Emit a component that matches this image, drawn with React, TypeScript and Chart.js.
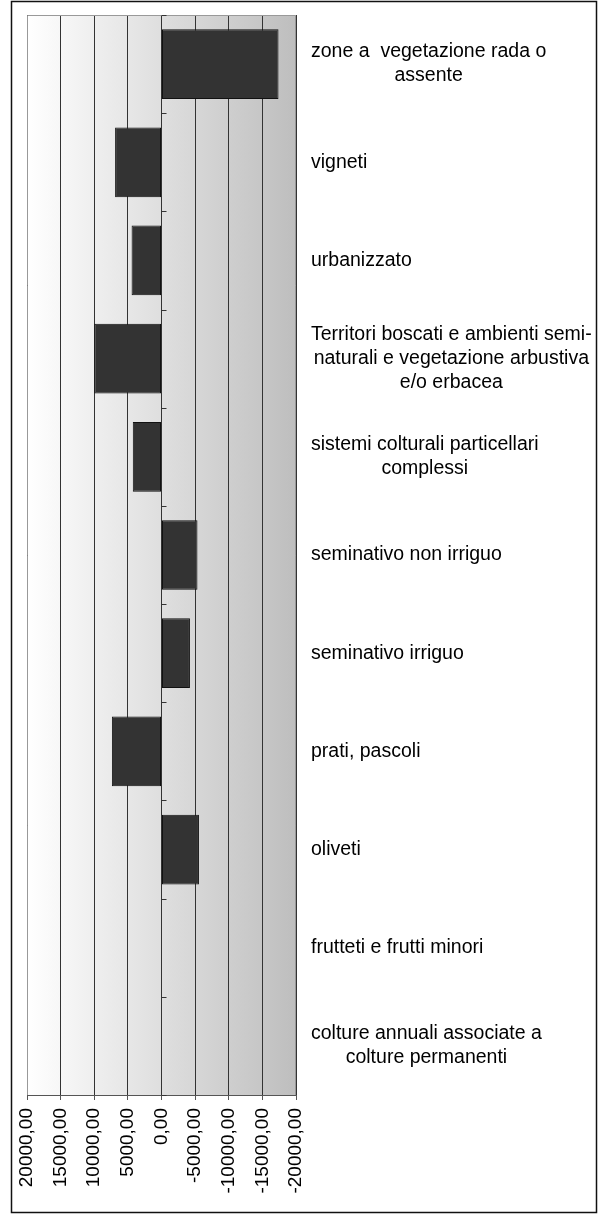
import React, { useEffect, useRef } from "react";
import { Chart, registerables } from "chart.js";

Chart.register(...registerables);

const categories: string[][] = [
  ["zone a  vegetazione rada o", "assente"],
  ["vigneti"],
  ["urbanizzato"],
  ["Territori boscati e ambienti semi-", "naturali e vegetazione arbustiva", "e/o erbacea"],
  ["sistemi colturali particellari", "complessi"],
  ["seminativo non irriguo"],
  ["seminativo irriguo"],
  ["prati, pascoli"],
  ["oliveti"],
  ["frutteti e frutti minori"],
  ["colture annuali associate a", "colture permanenti"],
];

const values: number[] = [-17400, 6900, 4450, 10000, 4270, -5350, -4230, 7380, -5570, 0, 0];

const xTickValues: number[] = [20000, 15000, 10000, 5000, 0, -5000, -10000, -15000, -20000];

const fmt = (v: number) => v.toFixed(2).replace(".", ",");

const FONT = '"Liberation Sans", Arial, sans-serif';

const decorPlugin = {
  id: "decor",
  beforeDraw(chart: any) {
    const { ctx, chartArea } = chart;
    ctx.save();
    ctx.fillStyle = "#ffffff";
    ctx.fillRect(0, 0, chart.width, chart.height);
    const g = ctx.createLinearGradient(chartArea.left, 0, chartArea.right, 0);
    g.addColorStop(0, "#ffffff");
    g.addColorStop(1, "#bebebe");
    ctx.fillStyle = g;
    ctx.fillRect(chartArea.left, chartArea.top, chartArea.right - chartArea.left, chartArea.bottom - chartArea.top);
    ctx.restore();
  },
  afterDraw(chart: any) {
    const { ctx, chartArea } = chart;
    const x = chart.scales.x;
    const y = chart.scales.y;
    ctx.save();
    // plot frame (top, left, right)
    ctx.strokeStyle = "#999999";
    ctx.lineWidth = 1;
    ctx.beginPath();
    ctx.moveTo(chartArea.left + 0.5, chartArea.bottom);
    ctx.lineTo(chartArea.left + 0.5, chartArea.top + 0.5);
    ctx.lineTo(chartArea.right - 0.5, chartArea.top + 0.5);
    ctx.lineTo(chartArea.right - 0.5, chartArea.bottom);
    ctx.stroke();
    // category ticks on zero line
    const x0 = x.getPixelForValue(0);
    const n = categories.length;
    ctx.strokeStyle = "#333333";
    ctx.beginPath();
    for (let i = 0; i <= n; i++) {
      const yy = Math.round(y.top + (i * (y.bottom - y.top)) / n) + 0.5;
      ctx.moveTo(x0, yy);
      ctx.lineTo(x0 + 5, yy);
    }
    ctx.stroke();
    // category labels
    ctx.fillStyle = "#000000";
    ctx.font = "19.5px " + FONT;
    ctx.textAlign = "center";
    ctx.textBaseline = "middle";
    const lineH = 24;
    categories.forEach((lines, i) => {
      const yc = y.getPixelForValue(i);
      const maxW = Math.max(...lines.map((l) => ctx.measureText(l).width));
      const cx = chartArea.right + 15 + maxW / 2;
      const startY = yc - ((lines.length - 1) * lineH) / 2;
      lines.forEach((l, j) => ctx.fillText(l, cx, startY + j * lineH));
    });
    // outer border
    ctx.strokeStyle = "#111111";
    ctx.lineWidth = 1.5;
    ctx.strokeRect(11.5, 1.5, 585, 1211);
    ctx.restore();
  },
};

export default function App() {
  const ref = useRef<HTMLCanvasElement | null>(null);
  useEffect(() => {
    if (!ref.current) return;
    const chart = new Chart(ref.current, {
      type: "bar",
      data: {
        labels: categories,
        datasets: [
          {
            data: values,
            backgroundColor: "#333333",
            borderColor: "#111111",
            borderWidth: 1,
            borderSkipped: false,
            barPercentage: 0.71,
            categoryPercentage: 1,
          },
        ],
      },
      options: {
        indexAxis: "y",
        responsive: false,
        animation: false,
        layout: { padding: { left: 27, top: 15, right: 313, bottom: 0 } },
        plugins: { legend: { display: false }, tooltip: { enabled: false }, title: { display: false } },
        scales: {
          x: {
            type: "linear",
            reverse: true,
            min: -20000,
            max: 20000,
            afterBuildTicks: (scale: any) => {
              scale.ticks = xTickValues.map((v) => ({ value: v }));
            },
            afterFit: (scale: any) => {
              scale.height = 123;
            },
            grid: {
              color: "#333333",
              lineWidth: 1,
              drawTicks: true,
              tickLength: 5,
              tickColor: "#555555",
            },
            border: { display: true, color: "#555555", width: 1 },
            ticks: {
              minRotation: 90,
              maxRotation: 90,
              padding: 8,
              color: "#000000",
              font: { family: FONT, size: 19 },
              callback: (v: any) => fmt(Number(v)),
            },
          },
          y: {
            type: "category",
            display: false,
          },
        },
      },
      plugins: [decorPlugin],
    });
    return () => chart.destroy();
  }, []);
  return (
    <div style={{ position: "absolute", left: 0, top: 0, width: 609, height: 1218 }}>
      <canvas ref={ref} width={609} height={1218} style={{ display: "block" }} />
    </div>
  );
}
